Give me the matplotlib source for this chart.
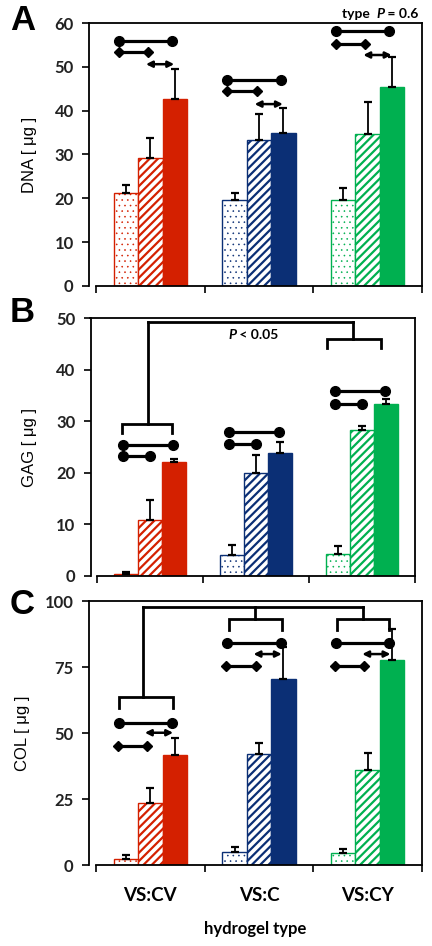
import numpy as np
import matplotlib
matplotlib.use("Agg")
import matplotlib.pyplot as plt

groups = ['VS:CV', 'VS:C', 'VS:CY']
colors = ['#d42000', '#0b2f75', '#00b050']
hatches = ['...', '////', None]

# means and upper error (per group: dotted, hatched, solid)
dnaMean = [[21.3, 29.3, 42.6], [19.7, 33.3, 34.8], [19.7, 34.6, 45.5]]
dnaErr = [[1.7, 4.4, 6.9], [1.6, 5.9, 5.9], [2.6, 7.3, 6.7]]
gagMean = [[0.4, 10.9, 22.0], [4.1, 19.9, 23.8], [4.3, 28.3, 33.3]]
gagErr = [[0.4, 3.8, 0.6], [2.0, 3.6, 2.1], [1.6, 0.7, 1.0]]
colMean = [[2.1, 23.6, 41.7], [5.1, 42.0, 70.5], [4.4, 36.0, 77.7]]
colErr = [[1.7, 5.4, 6.3], [1.8, 4.1, 12.2], [1.7, 6.6, 11.6]]

# significance marks: y level per group
dnaDumbbell = [56.0, 47.0, 58.1]
dnaDiamond = [53.4, 44.6, 55.3]
dnaArrow = [50.6, 41.5, 52.7]
gagLong = [25.4, 28.0, 35.9]
gagShort = [23.2, 25.5, 33.3]
colDumbbell = [53.7, 84.0, 84.0]
colArrow = [50.1, 79.9, 79.9]
colDiamond = [45.1, 75.4, 75.4]

# brackets
gagBracket = [29.5, None, 45.9]
gagBracketTop = 49.2
colBracket = [63.8, 93.1, 93.1]
colBracketTop = 97.9

W = 0.225
TICKFONT = 'Lato'


def drawBars(ax, means, errs):
    for g in range(3):
        for j in range(3):
            x = g + (j - 1) * W
            if hatches[j] == '...':
                with plt.rc_context({'hatch.linewidth': 0.4}):
                    ax.bar(x, means[g][j], W, facecolor='white', edgecolor=colors[g],
                           hatch=hatches[j], linewidth=1.0, zorder=2)
            elif hatches[j]:
                with plt.rc_context({'hatch.linewidth': 1.6}):
                    ax.bar(x, means[g][j], W, facecolor='white', edgecolor=colors[g],
                           hatch=hatches[j], linewidth=1.0, zorder=2)
            else:
                ax.bar(x, means[g][j], W, facecolor=colors[g], edgecolor=colors[g],
                       linewidth=1.0, zorder=2)
            ax.errorbar(x, means[g][j], yerr=[[0], [errs[g][j]]], fmt='none',
                        ecolor='black', elinewidth=1.3, capsize=3, capthick=1.6, zorder=3)


def dumbbell(ax, g, y, x0=-0.29, x1=0.2):
    ax.plot([g + x0, g + x1], [y, y], '-', color='black', lw=2.3, marker='o', ms=7, zorder=4)


def diamondLine(ax, g, y, x0=-0.29, x1=-0.02):
    ax.plot([g + x0, g + x1], [y, y], '-', color='black', lw=2.3, marker='D', ms=5, zorder=4)


def arrowLine(ax, g, y, x0=-0.04, x1=0.22):
    ax.annotate('', xy=(g + x1, y), xytext=(g + x0, y),
                arrowprops=dict(arrowstyle='<|-|>', color='black', lw=1.8,
                                mutation_scale=9, shrinkA=0, shrinkB=0), zorder=4)


def bracket(ax, g, y, drop, top, x0=-0.28, x1=0.21, xc=-0.04):
    ax.plot([g + x0, g + x0, g + x1, g + x1], [y - drop, y, y, y - drop],
            color='black', lw=2.0, zorder=4, solid_joinstyle='miter')
    ax.plot([g + xc, g + xc], [y, top], color='black', lw=2.0, zorder=4)


def styleAxes(ax, ymax, step, xleft, showLabels=False):
    ax.set_xlim(xleft, 2.5)
    ax.set_ylim(0, ymax)
    ax.set_yticks(np.arange(0, ymax + 1, step))
    ax.set_xticks([-0.5, 0.5, 1.5, 2.5])
    ax.set_xticklabels([])
    ax.spines['bottom'].set_bounds(-0.5, 2.5)
    for s in ax.spines.values():
        s.set_linewidth(1.3)
    ax.tick_params(axis='both', direction='out', length=5, width=1.2)
    ax.tick_params(axis='y', pad=6)
    for lab in ax.get_yticklabels():
        lab.set_fontfamily(TICKFONT)
        lab.set_fontweight('bold')
        lab.set_fontsize(12)
        lab.set_color('#222222')
    if showLabels:
        ax.set_xticks([0, 1, 2], minor=True)
        ax.set_xticklabels(groups, minor=True, fontfamily=TICKFONT,
                           fontweight='bold', fontsize=13.5)
        ax.tick_params(axis='x', which='minor', length=0, pad=16)


fig = plt.figure(figsize=(4.32, 9.46), dpi=100)
axA = fig.add_axes([89 / 432, 1 - 286 / 946, 333 / 432, 263 / 946])
axB = fig.add_axes([90.5 / 432, 1 - 576 / 946, 324.5 / 432, 258 / 946])
axC = fig.add_axes([89 / 432, 1 - 865 / 946, 333 / 432, 264 / 946])

# ---- A: DNA
drawBars(axA, dnaMean, dnaErr)
styleAxes(axA, 60, 10, -0.564)
for g in range(3):
    dumbbell(axA, g, dnaDumbbell[g])
    diamondLine(axA, g, dnaDiamond[g])
    arrowLine(axA, g, dnaArrow[g])
axA.set_ylabel('DNA [ μg ]', fontfamily='Liberation Sans', fontsize=12)
axA.yaxis.set_label_coords(-0.156, 0.5)
t3 = axA.text(0.99, 1.01, ' = 0.6', transform=axA.transAxes, ha='right', va='bottom',
              fontfamily=TICKFONT, fontweight='bold', fontsize=10)
t2 = axA.annotate('P', xy=(0, 0), xycoords=t3, ha='right', va='bottom',
                  fontfamily=TICKFONT, fontweight='bold', fontstyle='italic', fontsize=10)
axA.annotate('type  ', xy=(0, 0), xycoords=t2, ha='right', va='bottom',
             fontfamily=TICKFONT, fontweight='bold', fontsize=10)

# ---- B: GAG
drawBars(axB, gagMean, gagErr)
styleAxes(axB, 50, 10, -0.558)
for g in range(3):
    dumbbell(axB, g, gagLong[g], -0.25, 0.22)
    dumbbell(axB, g, gagShort[g], -0.25, 0.0)
bracket(axB, 0, gagBracket[0], 1.8, gagBracketTop, -0.26, 0.21, -0.02)
bracket(axB, 2, gagBracket[2], 1.8, gagBracketTop, -0.33, 0.18, -0.08)
axB.plot([-0.02, 1.92], [gagBracketTop, gagBracketTop], color='black', lw=2.0, zorder=4)
axB.set_ylabel('GAG [ μg ]', fontfamily='Liberation Sans', fontsize=12)
axB.yaxis.set_label_coords(-0.165, 0.5)
p1 = axB.text(0.74, 46.8, 'P', ha='left', va='center', fontfamily=TICKFONT,
              fontweight='bold', fontstyle='italic', fontsize=10)
axB.annotate(' < 0.05', xy=(1, 0.5), xycoords=p1, ha='left', va='center',
             fontfamily=TICKFONT, fontweight='bold', fontsize=10)

# ---- C: COL
drawBars(axC, colMean, colErr)
styleAxes(axC, 100, 25, -0.564, showLabels=True)
for g in range(3):
    dumbbell(axC, g, colDumbbell[g])
    arrowLine(axC, g, colArrow[g], -0.05, 0.21)
    diamondLine(axC, g, colDiamond[g], -0.3, -0.03)
bracket(axC, 0, colBracket[0], 4.5, colBracketTop, -0.29, 0.21, -0.07)
bracket(axC, 1, colBracket[1], 4.0, colBracketTop, -0.28, 0.21, -0.04)
bracket(axC, 2, colBracket[2], 4.0, colBracketTop, -0.28, 0.20, -0.04)
axC.plot([-0.07, 1.96], [colBracketTop, colBracketTop], color='black', lw=2.0, zorder=4)
axC.set_ylabel('COL [ μg ]', fontfamily='Liberation Sans', fontsize=12)
axC.yaxis.set_label_coords(-0.177, 0.5)
axC.set_xlabel('hydrogel type', fontfamily=TICKFONT, fontweight='bold', fontsize=12, labelpad=12)

# panel letters
for letter, ypx in [('A', 20), ('B', 312), ('C', 604)]:
    fig.text(10 / 432, 1 - ypx / 946, letter, ha='left', va='center',
             fontfamily='Liberation Sans', fontweight='bold', fontsize=25)

fig.savefig('out.png', dpi=100)
